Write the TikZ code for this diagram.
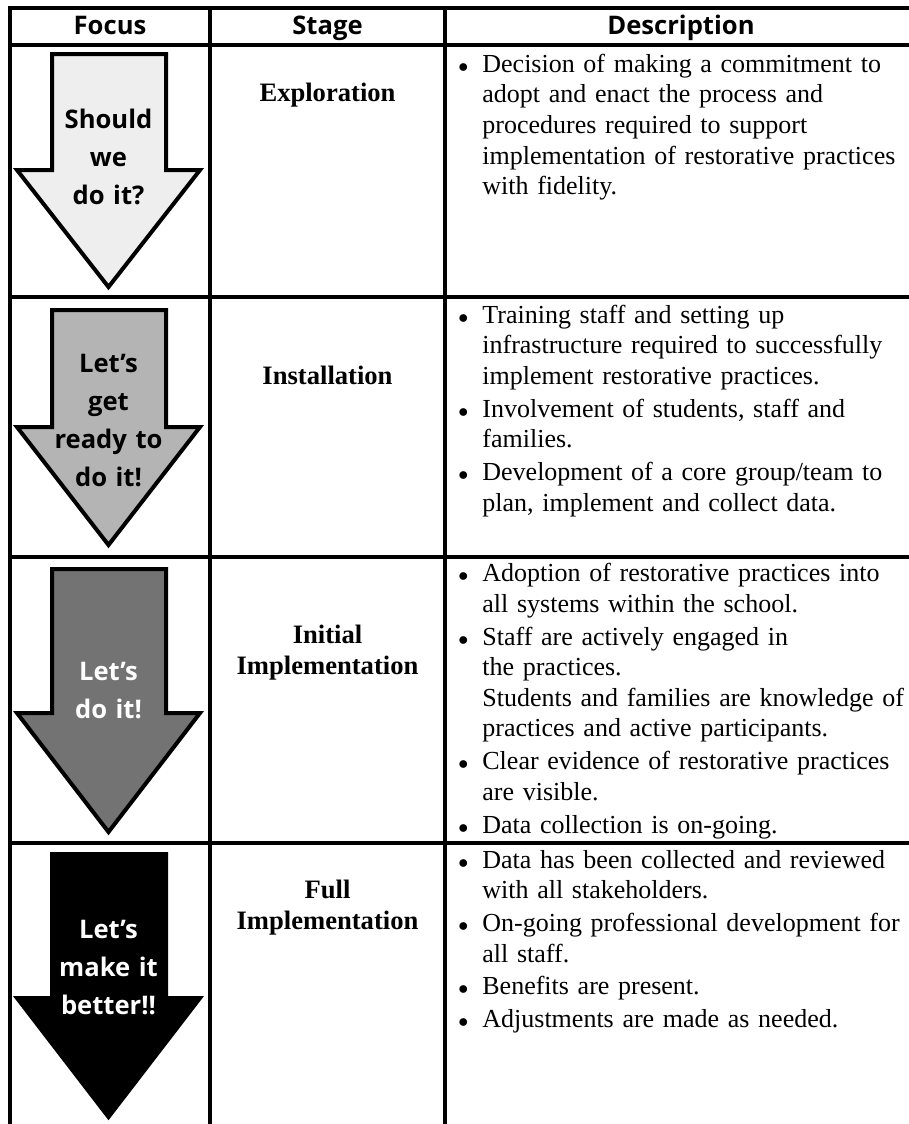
\documentclass[tikz,border=0pt]{standalone}
\usepackage{fontspec}
\setmainfont{Liberation Serif}
\newfontfamily\uifont{Open Sans}

\definecolor{shadeone}{HTML}{EEEEEE}
\definecolor{shadetwo}{HTML}{B4B4B4}
\definecolor{shadethree}{HTML}{737373}

\newcommand{\bul}{\leftskip=13.5pt\leavevmode\llap{{\fontsize{10}{10}\selectfont$\bullet$}\hspace{7pt}}}
\newcommand{\closepar}{\endgraf}
\newcommand{\stagearrow}[4]{\draw[focusarrow,fill=#4] (52,#1)--(166,#1)--(166,#2)--(200,#2)--(108.5,#3)--(17,#2)--(52,#2)--cycle;}

\begin{document}
\begin{tikzpicture}[x=0.5pt,y=-0.5pt,
  rule/.style={line width=2pt},
  focusarrow/.style={draw=black,line width=2pt,line join=miter},
  head/.style={anchor=base,inner sep=0pt,font=\uifont\bfseries\fontsize{12.8}{15}\selectfont},
  aim/.style={anchor=base,inner sep=0pt,text width=90pt,align=center,font=\uifont\bfseries\fontsize{12.8}{19}\selectfont},
  stagename/.style={anchor=base,inner sep=0pt,text width=110pt,align=center,font=\bfseries\fontsize{13.3}{15.5}\selectfont},
  desc/.style={anchor=base west,inner sep=0pt,text width=232pt,align=left,font=\fontsize{13}{15.3}\selectfont}]
\useasboundingbox (0,0) rectangle (909,1124);
\clip (0,0) rectangle (909,1124);

\draw[rule] (917,7.5) -- (9.5,7.5) -- (9.5,1130);
\draw[rule] (9.5,45) -- (917,45);
\draw[rule] (9.5,297) -- (917,297);
\draw[rule] (9.5,556.5) -- (917,556.5);
\draw[rule] (9.5,843) -- (917,843);
\draw[rule] (210,7.5) -- (210,1130);
\draw[rule] (445,7.5) -- (445,1130);
\draw[rule] (917,7.5) -- (917,1130);

\node[head] (focushead) at (110,34) {Focus};
\node[head] (stagehead) at (327.5,34) {Stage};
\node[head] (deschead) at (681,34) {Description};

\stagearrow{54}{170}{287}{shadeone}
\stagearrow{310}{427}{545}{shadetwo}
\stagearrow{569}{713}{832}{shadethree}
\stagearrow{854}{998}{1117}{black}

\node[aim] (aim1) at (108.5,128) {Should\\we\\do it?};
\node[aim] (aim2) at (108.5,372) {Let’s\\get\\ready to\\do it!};
\node[aim,text=white] (aim3) at (108.5,680) {Let’s\\do it!};
\node[aim,text=white] (aim4) at (108.5,938) {Let’s\\make it\\better!!};

\node[stagename] (stage1) at (327.5,101) {Exploration};
\node[stagename] (stage2) at (327.5,384) {Installation};
\node[stagename] (stage3) at (327.5,643) {Initial\\Implementation};
\node[stagename] (stage4) at (327.5,898) {Full\\Implementation};

\node[desc] (desc1) at (455,72.3) {\bul Decision of making a commitment to\\adopt and enact the process and\\procedures required to support\\implementation of restorative practices\\with fidelity.\closepar};
\node[desc] (desc2) at (455,323.3) {\bul Training staff and setting up\\infrastructure required to successfully\\implement restorative practices.\\[1.1pt]\bul Involvement of students, staff and\\families.\\[1.1pt]\bul Development of a core group/team to\\plan, implement and collect data.\closepar};
\node[desc] (desc3) at (455,581.7) {\bul Adoption of restorative practices into\\all systems within the school.\\[1.1pt]\bul Staff are actively engaged in\\the practices.\\Students and families are knowledge of\\practices and active participants.\\[1.1pt]\bul Clear evidence of restorative practices\\are visible.\\[1.1pt]\bul Data collection is on-going.\closepar};
\node[desc] (desc4) at (455,868) {\bul Data has been collected and reviewed\\with all stakeholders.\\[1.1pt]\bul On-going professional development for\\all staff.\\[1.1pt]\bul Benefits are present.\\[1.1pt]\bul Adjustments are made as needed.\closepar};
\end{tikzpicture}
\end{document}
